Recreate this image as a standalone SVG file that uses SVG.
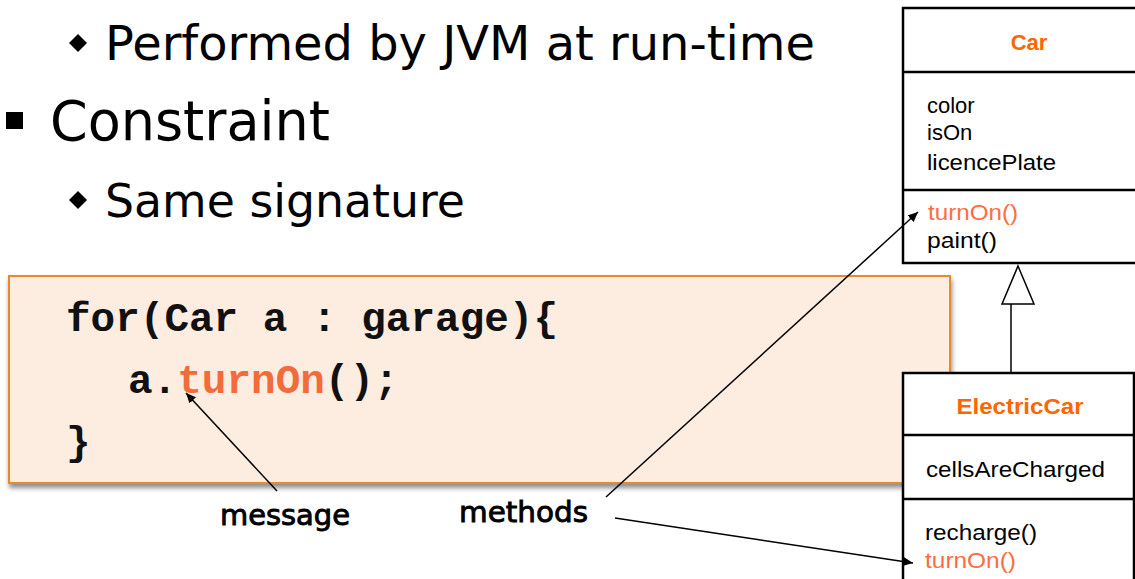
<svg xmlns="http://www.w3.org/2000/svg" width="1135" height="579" viewBox="0 0 1135 579">
  <defs>
    <filter id="shadow" x="-5%" y="-10%" width="110%" height="125%">
      <feGaussianBlur in="SourceAlpha" stdDeviation="2.5"/>
      <feOffset dx="1" dy="4" result="blur"/>
      <feComponentTransfer><feFuncA type="linear" slope="0.45"/></feComponentTransfer>
      <feMerge><feMergeNode/><feMergeNode in="SourceGraphic"/></feMerge>
    </filter>
    <marker id="arrow" viewBox="0 0 10 10" refX="10" refY="5" markerWidth="10" markerHeight="10" markerUnits="userSpaceOnUse" orient="auto">
      <path d="M0,0.5 L10,5 L0,9.5 Z" fill="#000"/>
    </marker>
  </defs>
  <style>
    .slide { font-family: "DejaVu Sans", "Liberation Sans", sans-serif; fill: #000; }
    .code { font-family: "Liberation Mono", "Courier New", monospace; font-weight: bold; font-size: 41px; fill: #111; }
    .hl { fill: #F26B3A; }
    .uml { font-family: "Liberation Sans", Arial, sans-serif; font-size: 22px; fill: #000; }
    .cname { font-weight: bold; fill: #FF6600; }
    .meth { fill: #FF6D40; }
    .box { fill: #fff; stroke: #000; stroke-width: 2.5; }
    .div { stroke: #000; stroke-width: 2.5; }
    .label { font-family: "DejaVu Sans", sans-serif; font-size: 29px; fill: #000; stroke: #000; stroke-width: 0.9; }
    .conn { stroke: #000; stroke-width: 1.5; fill: none; }
  </style>

  <!-- bullet list -->
  <g id="bullets">
    <path d="M78,34 L87,43 L78,52 L69,43 Z" fill="#000"/>
    <text class="slide" x="105" y="60" font-size="48" textLength="710" lengthAdjust="spacingAndGlyphs">Performed by JVM at run-time</text>
    <rect x="6" y="112" width="17" height="17" fill="#000"/>
    <text class="slide" x="50" y="140" font-size="56" textLength="280" lengthAdjust="spacingAndGlyphs">Constraint</text>
    <path d="M78,191 L87,200 L78,209 L69,200 Z" fill="#000"/>
    <text class="slide" x="105" y="217" font-size="47" textLength="360" lengthAdjust="spacingAndGlyphs">Same signature</text>
  </g>

  <!-- code snippet -->
  <g id="code">
    <rect x="9" y="276" width="941" height="207" fill="#FDECE0" stroke="#E8892B" stroke-width="2" filter="url(#shadow)"/>
    <text class="code" x="66" y="331">for(Car a : garage){</text>
    <text class="code" x="128" y="393">a.<tspan class="hl">turnOn</tspan>();</text>
    <text class="code" x="66" y="455">}</text>
  </g>

  <!-- class Car -->
  <g id="car">
    <rect class="box" x="903" y="8" width="240" height="255"/>
    <line class="div" x1="903" y1="72" x2="1143" y2="72"/>
    <line class="div" x1="903" y1="190" x2="1143" y2="190"/>
    <text class="uml cname" x="1029" y="50" text-anchor="middle">Car</text>
    <text class="uml" x="927" y="113">color</text>
    <text class="uml" x="927" y="140">isOn</text>
    <text class="uml" x="927" y="170" textLength="129" lengthAdjust="spacingAndGlyphs">licencePlate</text>
    <text class="uml meth" x="928" y="220" textLength="90" lengthAdjust="spacingAndGlyphs">turnOn()</text>
    <text class="uml" x="927" y="248" textLength="70" lengthAdjust="spacingAndGlyphs">paint()</text>
  </g>

  <!-- class ElectricCar -->
  <g id="electric-car">
    <rect class="box" x="903" y="373" width="231" height="220"/>
    <line class="div" x1="903" y1="435" x2="1134" y2="435"/>
    <line class="div" x1="903" y1="499" x2="1134" y2="499"/>
    <text class="uml cname" x="1020" y="414" text-anchor="middle" textLength="127" lengthAdjust="spacingAndGlyphs">ElectricCar</text>
    <text class="uml" x="926" y="477" textLength="179" lengthAdjust="spacingAndGlyphs">cellsAreCharged</text>
    <text class="uml" x="925" y="540" textLength="112" lengthAdjust="spacingAndGlyphs">recharge()</text>
    <text class="uml meth" x="925" y="568" textLength="91" lengthAdjust="spacingAndGlyphs">turnOn()</text>
  </g>

  <!-- labels -->
  <g id="label-message">
    <text class="label" x="220" y="525" textLength="130" lengthAdjust="spacingAndGlyphs">message</text>
  </g>
  <g id="label-methods">
    <text class="label" x="459" y="522" textLength="129" lengthAdjust="spacingAndGlyphs">methods</text>
  </g>

  <!-- connectors -->
  <g id="connectors">
    <!-- inheritance: ElectricCar extends Car -->
    <line class="conn" x1="1011" y1="304" x2="1011" y2="373"/>
    <path d="M1018,266 L1034,304 L1002,304 Z" fill="#fff" stroke="#000" stroke-width="1.5"/>
    <!-- message pointer -->
    <line class="conn" x1="277" y1="491" x2="186" y2="393" marker-end="url(#arrow)"/>
    <!-- method pointers -->
    <line class="conn" x1="606" y1="497" x2="918" y2="212" marker-end="url(#arrow)"/>
    <line class="conn" x1="615" y1="518" x2="913" y2="563" marker-end="url(#arrow)"/>
  </g>
</svg>
